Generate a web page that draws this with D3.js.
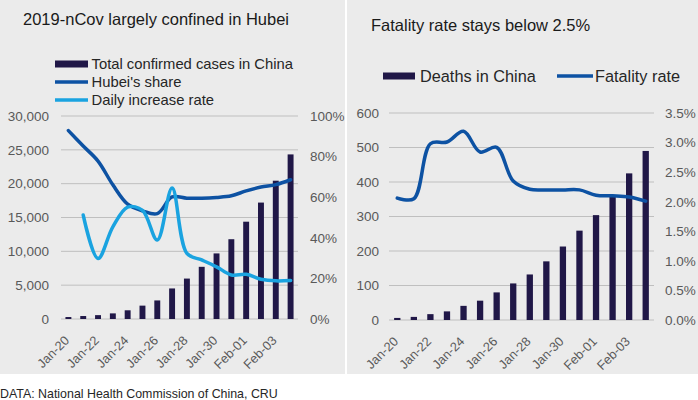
<!DOCTYPE html>
<html><head><meta charset="utf-8">
<script src="https://cdn.jsdelivr.net/npm/d3@7"></script>
<style>
html,body{margin:0;padding:0;background:#fff;}
svg text{font-family:"Liberation Sans",Arial,sans-serif;}
</style></head>
<body>
<svg id="c" width="698" height="400"></svg>
<script>
const dates = ["Jan-20","Jan-21","Jan-22","Jan-23","Jan-24","Jan-25","Jan-26","Jan-27","Jan-28","Jan-29","Jan-30","Jan-31","Feb-01","Feb-02","Feb-03","Feb-04"];
const tickLabels = ["Jan-20","Jan-22","Jan-24","Jan-26","Jan-28","Jan-30","Feb-01","Feb-03"];
const confirmed = [291,440,571,830,1287,1975,2744,4515,5974,7711,9692,11791,14380,17205,20438,24324];
const hubeiShare = [0.928,0.852,0.778,0.661,0.566,0.533,0.519,0.601,0.595,0.595,0.599,0.607,0.631,0.650,0.662,0.686];
const dailyIncrease = [null,0.512,0.298,0.454,0.551,0.535,0.389,0.645,0.323,0.291,0.257,0.217,0.220,0.196,0.188,0.190];
const deaths = [6,9,17,25,41,56,80,106,132,170,213,259,304,361,425,490];
const fatalityRate = [0.0206,0.0205,0.0298,0.0301,0.0319,0.0284,0.0292,0.0235,0.0221,0.0220,0.0220,0.0220,0.0211,0.0210,0.0208,0.0201];
const leftTicks = [0,5000,10000,15000,20000,25000,30000];
const leftPctTicks = [0,0.2,0.4,0.6,0.8,1.0];
const rightTicks = [0,100,200,300,400,500,600];
const rightPctTicks = [0,0.005,0.01,0.015,0.02,0.025,0.03,0.035];

const C = {bg:"#ebebeb", bar:"#201747", dark:"#0d52a3", light:"#1aa3e0", grid:"#bfbfbf", axis:"#595959", text:"#1a1a1a"};
const svg = d3.select("#c");

svg.append("rect").attr("x",0).attr("y",0).attr("width",345).attr("height",374).attr("fill",C.bg);
svg.append("rect").attr("x",347).attr("y",0).attr("width",351).attr("height",374).attr("fill",C.bg);

svg.append("text").attr("x",0).attr("y",398).attr("font-size",12.4).attr("fill","#262626")
  .text("DATA: National Health Commission of China, CRU");

function panel(o){
  const g = svg.append("g");
  const x = d3.scaleBand().domain(dates).range([o.x0,o.x1]).paddingInner(o.pad).paddingOuter(o.pad/2);
  const y = d3.scaleLinear().domain(o.yDom).range([o.yb,o.yt]);
  const y2 = d3.scaleLinear().domain(o.y2Dom).range([o.yb,o.yt]);
  g.append("g").selectAll("line").data(o.yTicks).join("line")
    .attr("x1",o.x0).attr("x2",o.x1).attr("y1",d=>y(d)).attr("y2",d=>y(d))
    .attr("stroke",C.grid).attr("stroke-width",1);
  const la = g.append("g").attr("transform",`translate(${o.lx},0)`)
    .call(d3.axisLeft(y).tickValues(o.yTicks).tickFormat(o.yFmt).tickSize(0).tickPadding(0));
  la.select(".domain").remove();
  la.selectAll("text").attr("font-size",13.5).attr("fill",C.axis).attr("font-family","Liberation Sans, Arial, sans-serif");
  const ra = g.append("g").attr("transform",`translate(${o.rx},0)`)
    .call(d3.axisRight(y2).tickValues(o.y2Ticks).tickFormat(o.y2Fmt).tickSize(0).tickPadding(0));
  ra.select(".domain").remove();
  ra.selectAll("text").attr("font-size",13.5).attr("fill",C.axis).attr("font-family","Liberation Sans, Arial, sans-serif");
  g.append("g").selectAll("rect").data(o.bars).join("rect")
    .attr("x",(d,i)=>x(dates[i])).attr("width",x.bandwidth())
    .attr("y",d=>y(d)).attr("height",d=>y(0)-y(d)).attr("fill",C.bar);
  o.lines.forEach(L=>{
    const pts = L.data.map((d,i)=>[d,i]).filter(p=>p[0]!=null);
    const line = d3.line().x(p=>x(dates[p[1]])+x.bandwidth()/2).y(p=>y2(p[0])).curve(d3.curveCatmullRom.alpha(0.5));
    g.append("path").datum(pts).attr("d",line).attr("fill","none")
      .attr("stroke",L.color).attr("stroke-width",3.5).attr("stroke-linecap","round").attr("stroke-linejoin","round");
  });
  g.append("g").selectAll("text").data(tickLabels).join("text")
    .attr("transform",d=>`translate(${x(d)+x.bandwidth()/2-1.5},${o.yb+19}) rotate(-45)`)
    .attr("text-anchor","end").attr("dy","0.35em").attr("font-size",12.8).attr("fill",C.axis)
    .text(d=>d);
  return {x,y,y2};
}

panel({x0:61,x1:298,yb:319,yt:116,pad:0.6,yDom:[0,30000],y2Dom:[0,1],
  yTicks:leftTicks,y2Ticks:leftPctTicks,yFmt:d3.format(","),y2Fmt:d3.format(".0%"),
  lx:49,rx:310,bars:confirmed,
  lines:[{data:hubeiShare,color:C.dark},{data:dailyIncrease,color:C.light}]});

panel({x0:389,x1:654,yb:320,yt:113,pad:0.62,yDom:[0,600],y2Dom:[0,0.035],
  yTicks:rightTicks,y2Ticks:rightPctTicks,yFmt:d3.format("d"),y2Fmt:d3.format(".1%"),
  lx:379,rx:665,bars:deaths,
  lines:[{data:fatalityRate,color:C.dark}]});

svg.append("text").attr("x",23).attr("y",25).attr("font-size",16.5).attr("fill",C.text).text("2019-nCov largely confined in Hubei");
svg.append("text").attr("x",371).attr("y",30.5).attr("font-size",16.5).attr("fill",C.text).text("Fatality rate stays below 2.5%");

const legL = [{t:"Total confirmed cases in China",k:"bar",c:C.bar},{t:"Hubei's share",k:"line",c:C.dark},{t:"Daily increase rate",k:"line",c:C.light}];
const lg = svg.append("g");
legL.forEach((d,i)=>{
  const cy = 64 + i*18;
  if(d.k==="bar") lg.append("rect").attr("x",55).attr("y",cy-3.5).attr("width",33).attr("height",7).attr("fill",d.c);
  else lg.append("line").attr("x1",55).attr("x2",88).attr("y1",cy).attr("y2",cy).attr("stroke",d.c).attr("stroke-width",3.5);
  lg.append("text").attr("x",91.5).attr("y",cy).attr("dy","0.35em").attr("font-size",14.8).attr("fill","#262626").text(d.t);
});
const rg = svg.append("g");
rg.append("rect").attr("x",383).attr("y",72.5).attr("width",32).attr("height",7).attr("fill",C.bar);
rg.append("text").attr("x",420).attr("y",76).attr("dy","0.35em").attr("font-size",16.3).attr("fill","#262626").text("Deaths in China");
rg.append("line").attr("x1",557).attr("x2",593).attr("y1",76).attr("y2",76).attr("stroke",C.dark).attr("stroke-width",3.5);
rg.append("text").attr("x",595).attr("y",76).attr("dy","0.35em").attr("font-size",16.3).attr("fill","#262626").text("Fatality rate");
</script>
</body></html>
